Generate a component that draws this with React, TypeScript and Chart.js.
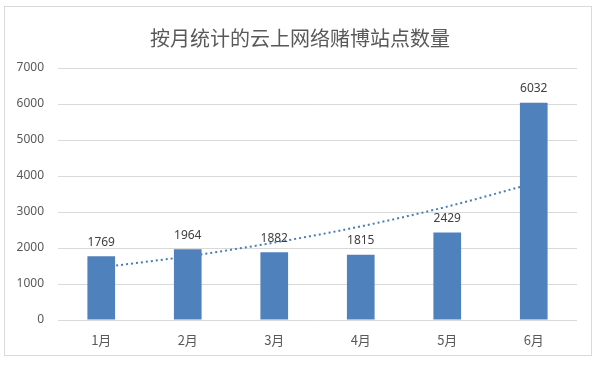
import React, { useEffect, useRef } from "react";
import { Chart, registerables } from "chart.js";

Chart.register(...registerables);

const TITLE = "按月统计的云上网络赌博站点数量";
const MONTHS = ["1月", "2月", "3月", "4月", "5月", "6月"];
const SITE_COUNTS = [1769, 1964, 1882, 1815, 2429, 6032];
const TREND_VALUES = [1460, 1770, 2150, 2600, 3150, 3800];
const Y_MAX = 7000;
const Y_STEP = 1000;

const labelPlugin = {
  id: "customLabels",
  afterDatasetsDraw(chart: any) {
    const ctx = chart.ctx;
    const meta = chart.getDatasetMeta(0);
    ctx.save();
    ctx.font = "12px 'Noto Sans', sans-serif";
    ctx.fillStyle = "#404040";
    ctx.textAlign = "center";
    ctx.textBaseline = "bottom";
    meta.data.forEach((el: any, i: number) => {
      ctx.fillText(String(SITE_COUNTS[i]), el.x, el.y - 8);
    });
    ctx.restore();
  },
  afterDraw(chart: any) {
    const ctx = chart.ctx;
    ctx.save();
    ctx.font = "20px 'Noto Sans CJK SC', sans-serif";
    ctx.fillStyle = "#595959";
    ctx.textAlign = "center";
    ctx.textBaseline = "middle";
    ctx.fillText(TITLE, 300, 38);
    ctx.restore();
  },
};

export default function App() {
  const ref = useRef<HTMLCanvasElement>(null);
  useEffect(() => {
    const chart = new Chart(ref.current as HTMLCanvasElement, {
      type: "bar",
      data: {
        labels: MONTHS,
        datasets: [
          {
            type: "bar",
            data: SITE_COUNTS,
            backgroundColor: "#4f81bd",
            borderWidth: 0,
            barPercentage: 0.32,
            categoryPercentage: 1,
            order: 1,
          } as any,
          {
            type: "line",
            data: TREND_VALUES,
            borderColor: "#4a7ebb",
            borderWidth: 2,
            borderDash: [2, 3],
            pointRadius: 0,
            fill: false,
            cubicInterpolationMode: "monotone",
            order: 2,
          } as any,
        ],
      },
      options: {
        animation: false,
        responsive: false,
        maintainAspectRatio: false,
        layout: { padding: { top: 68, right: 23, left: 0, bottom: 0 } },
        plugins: {
          legend: { display: false },
          tooltip: { enabled: false },
          title: { display: false },
        },
        scales: {
          x: {
            grid: { display: false, drawTicks: false },
            border: { display: false },
            ticks: {
              padding: 12,
              color: "#595959",
              font: { family: "'Noto Sans CJK SC', sans-serif", size: 13 },
            },
            afterFit: (s: any) => {
              s.height = 46;
            },
          },
          y: {
            min: 0,
            max: Y_MAX,
            grid: { color: "#d9d9d9", lineWidth: 1, drawTicks: false },
            border: { display: false },
            ticks: {
              stepSize: Y_STEP,
              padding: 14,
              color: "#595959",
              font: { family: "'Noto Sans', sans-serif", size: 12 },
              callback: (v: any) => String(v),
            },
            afterFit: (s: any) => {
              s.width = 58;
            },
          },
        },
      },
      plugins: [labelPlugin],
    });
    return () => chart.destroy();
  }, []);

  return (
    <div
      style={{
        position: "fixed",
        left: 0,
        top: 0,
        width: 600,
        height: 366,
        background: "#ffffff",
      }}
    >
      <div
        style={{
          position: "absolute",
          left: 4,
          top: 6,
          width: 588,
          height: 350,
          border: "1px solid #d9d9d9",
          boxSizing: "border-box",
        }}
      />
      <canvas
        ref={ref}
        width={600}
        height={366}
        style={{ position: "absolute", left: 0, top: 0, width: 600, height: 366 }}
      />
    </div>
  );
}
